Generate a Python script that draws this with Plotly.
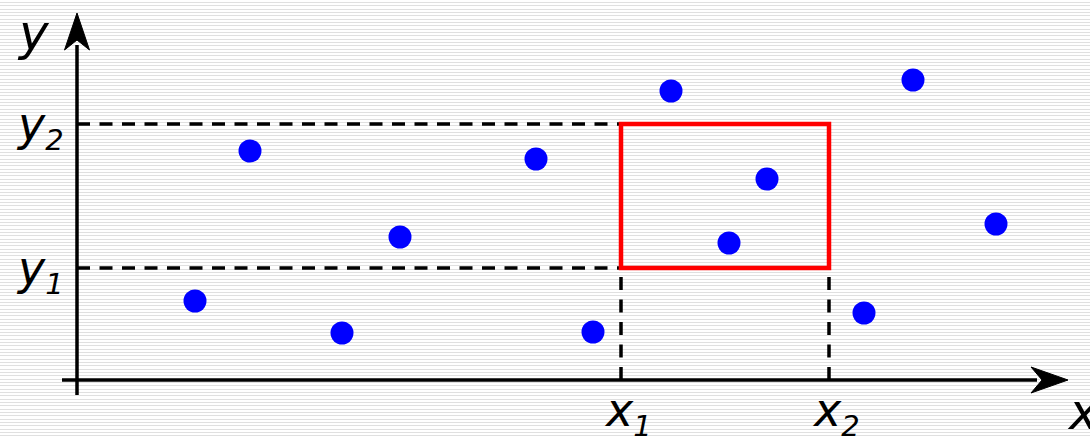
import plotly.graph_objects as go

# Scatter points (arbitrary units, origin at axes intersection)
pts_x = [1.18, 1.73, 2.65, 3.23, 4.59, 5.16, 5.94, 6.52, 6.90, 7.87, 8.36, 9.19]
pts_y = [0.79, 2.29, 0.47, 1.43, 2.21, 0.48, 2.89, 1.37, 2.01, 0.67, 3.00, 1.56]

# Query window bounds
x_bounds = [5.44, 7.52]   # x1, x2
y_bounds = [1.12, 2.56]   # y1, y2
x_labels = ["x", "x"]
x_subs = ["1", "2"]
y_labels = ["y", "y"]
y_subs = ["1", "2"]

X_RANGE = [-0.77, 10.13]
Y_RANGE = [-0.56, 3.80]
W, H = 1090, 436

FONT = "DejaVu Sans"


def label(main, sub):
    return (f"<i>{main}<sub><span style='font-size:29px'>{sub}</span></sub></i>")


fig = go.Figure()

fig.add_trace(go.Scatter(
    x=pts_x, y=pts_y, mode="markers",
    marker=dict(color="#0000ff", size=23, line=dict(width=0)),
    hoverinfo="skip", showlegend=False,
))

shapes = []

# background stripes (texture)
path = ""
k = 0
while True:
    py = 2 + round(k * 10 / 3) + 0.5
    if py > H:
        break
    yp = 1 - py / H
    path += f"M0,{yp:.5f} L1,{yp:.5f} "
    k += 1
shapes.append(dict(type="path", xref="paper", yref="paper", path=path,
                   line=dict(color="#e0e0e0", width=1), layer="below"))

x1, x2 = x_bounds
y1, y2 = y_bounds
dash = "13px,9.5px"
# dashed guides
for yv in y_bounds:
    shapes.append(dict(type="line", x0=0, x1=x1, y0=yv, y1=yv,
                       line=dict(color="black", width=3.5, dash=dash)))
for xv in x_bounds:
    shapes.append(dict(type="line", x0=xv, x1=xv, y0=0, y1=y1,
                       line=dict(color="black", width=3.5, dash=dash)))

# axes
shapes.append(dict(type="line", x0=-0.15, x1=9.6, y0=0, y1=0,
                   line=dict(color="black", width=3.5)))
shapes.append(dict(type="line", x0=0, x1=0, y0=-0.15, y1=3.35,
                   line=dict(color="black", width=3.5)))
# arrow heads
shapes.append(dict(type="path",
                   path="M 9.91,0 L 9.54,0.13 L 9.65,0 L 9.54,-0.13 Z",
                   fillcolor="black", line=dict(color="black", width=1)))
shapes.append(dict(type="path",
                   path="M 0,3.67 L -0.125,3.30 L 0,3.40 L 0.125,3.30 Z",
                   fillcolor="black", line=dict(color="black", width=1)))

# red query rectangle
shapes.append(dict(type="rect", x0=x1, x1=x2, y0=y1, y1=y2,
                   line=dict(color="#ff0000", width=4.5), fillcolor="rgba(0,0,0,0)"))

annotations = []
for xv, m, s in zip(x_bounds, x_labels, x_subs):
    annotations.append(dict(x=xv + 0.07, y=-0.33, text=label(m, s), showarrow=False,
                            font=dict(family=FONT, size=46, color="black"),
                            xanchor="center", yanchor="middle"))
for yv, m, s in zip(y_bounds, y_labels, y_subs):
    annotations.append(dict(x=-0.37, y=yv - 0.03, text=label(m, s), showarrow=False,
                            font=dict(family=FONT, size=46, color="black"),
                            xanchor="center", yanchor="middle"))
annotations.append(dict(x=-0.44, y=3.47, text="<i>y</i>", showarrow=False,
                        font=dict(family=FONT, size=50, color="black"),
                        xanchor="center", yanchor="middle"))
annotations.append(dict(x=9.88, y=-0.32, text="<i>x</i>", showarrow=False,
                        font=dict(family=FONT, size=50, color="black"),
                        xanchor="left", yanchor="middle"))

fig.update_layout(
    width=W, height=H,
    margin=dict(l=0, r=0, t=0, b=0),
    paper_bgcolor="white", plot_bgcolor="white",
    xaxis=dict(range=X_RANGE, visible=False, fixedrange=True),
    yaxis=dict(range=Y_RANGE, visible=False, fixedrange=True),
    shapes=shapes, annotations=annotations,
    showlegend=False,
)

fig.write_html("out.html", config={"displayModeBar": False},
               post_script="document.body.style.margin='0';document.body.style.overflow='hidden';")
